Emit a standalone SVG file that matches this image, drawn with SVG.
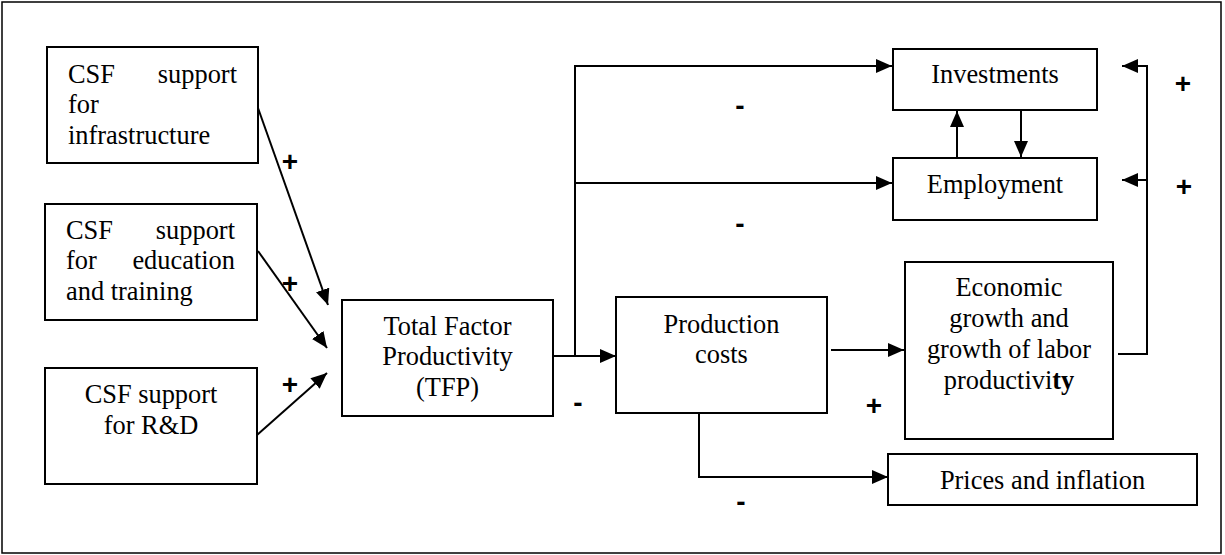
<svg xmlns="http://www.w3.org/2000/svg" width="1225" height="555" viewBox="0 0 1225 555">
<style>
.box{fill:#fff;stroke:#000;stroke-width:2}
.t{font-family:"Liberation Serif","Times New Roman",serif;font-size:26.4px;fill:#000}
.c{text-anchor:middle}
.e{text-anchor:end}
.s{font-family:"Liberation Sans",Arial,sans-serif;font-size:28px;font-weight:bold;fill:#000;text-anchor:middle}
.ln{fill:none;stroke:#000;stroke-width:2}
</style>
<defs>
<marker id="ah" markerUnits="userSpaceOnUse" markerWidth="17" markerHeight="15" refX="16" refY="7" orient="auto">
<path d="M0,0 L16,7 L0,14 z" fill="#000"/>
</marker>
</defs>
<rect x="2" y="2" width="1219" height="551" fill="#fff" stroke="#000" stroke-width="1.5"/>

<g id="connectors">
<line class="ln" x1="258" y1="108" x2="328" y2="305" marker-end="url(#ah)"/>
<line class="ln" x1="258" y1="251" x2="327" y2="348" marker-end="url(#ah)"/>
<line class="ln" x1="257" y1="435" x2="327" y2="373" marker-end="url(#ah)"/>
<polyline class="ln" points="553,356 616,356" marker-end="url(#ah)"/>
<polyline class="ln" points="575,356 575,66 892,66" marker-end="url(#ah)"/>
<polyline class="ln" points="575,183 892,183" marker-end="url(#ah)"/>
<line class="ln" x1="957" y1="158" x2="957" y2="111" marker-end="url(#ah)"/>
<line class="ln" x1="1021" y1="111" x2="1021" y2="157" marker-end="url(#ah)"/>
<line class="ln" x1="831" y1="350" x2="904" y2="350" marker-end="url(#ah)"/>
<polyline class="ln" points="1118,354 1147,354 1147,66 1122,66" marker-end="url(#ah)"/>
<polyline class="ln" points="1147,180 1122,180" marker-end="url(#ah)"/>
<polyline class="ln" points="699,413 699,477 888,477" marker-end="url(#ah)"/>
</g>

<g id="signs">
<text class="s" x="290" y="170.5">+</text>
<text class="s" x="290" y="293">+</text>
<text class="s" x="290" y="393.5">+</text>
<text class="s" x="578" y="412">-</text>
<text class="s" x="874" y="415">+</text>
<text class="s" x="741" y="510.5">-</text>
<text class="s" x="740" y="114.5">-</text>
<text class="s" x="740" y="232.5">-</text>
<text class="s" x="1183" y="92.5">+</text>
<text class="s" x="1184" y="195.5">+</text>
</g>

<g id="csf-infra">
<rect class="box" x="47" y="47" width="211" height="116"/>
<text class="t" x="68" y="83">CSF</text>
<text class="t e" x="237" y="83">support</text>
<text class="t" x="68" y="113">for</text>
<text class="t" x="68" y="144">infrastructure</text>
</g>

<g id="csf-edu">
<rect class="box" x="45" y="204" width="212" height="116"/>
<text class="t" x="66" y="239">CSF</text>
<text class="t e" x="235" y="239">support</text>
<text class="t" x="66" y="269">for</text>
<text class="t e" x="235" y="269">education</text>
<text class="t" x="66" y="300">and training</text>
</g>

<g id="csf-rd">
<rect class="box" x="45" y="368" width="212" height="116"/>
<text class="t c" x="151" y="403">CSF support</text>
<text class="t c" x="151" y="434">for R&amp;D</text>
</g>

<g id="tfp">
<rect class="box" x="342" y="300" width="211" height="116"/>
<text class="t c" x="447.5" y="335">Total Factor</text>
<text class="t c" x="447.5" y="365">Productivity</text>
<text class="t c" x="447.5" y="396">(TFP)</text>
</g>

<g id="prod-costs">
<rect class="box" x="616" y="297" width="211" height="116"/>
<text class="t c" x="721.5" y="333">Production</text>
<text class="t c" x="721.5" y="363">costs</text>
</g>

<g id="econ-growth">
<rect class="box" x="905" y="262" width="208" height="177"/>
<text class="t c" x="1009" y="296">Economic</text>
<text class="t c" x="1009" y="327">growth and</text>
<text class="t c" x="1009" y="358">growth of labor</text>
<text class="t c" x="1009" y="389">productivi<tspan font-weight="bold">ty</tspan></text>
</g>

<g id="investments">
<rect class="box" x="893" y="49" width="204" height="61"/>
<text class="t c" x="995" y="83">Investments</text>
</g>

<g id="employment">
<rect class="box" x="893" y="158" width="204" height="62"/>
<text class="t c" x="995" y="193">Employment</text>
</g>

<g id="prices">
<rect class="box" x="888" y="454" width="309" height="51"/>
<text class="t c" x="1042.5" y="489">Prices and inflation</text>
</g>
</svg>
